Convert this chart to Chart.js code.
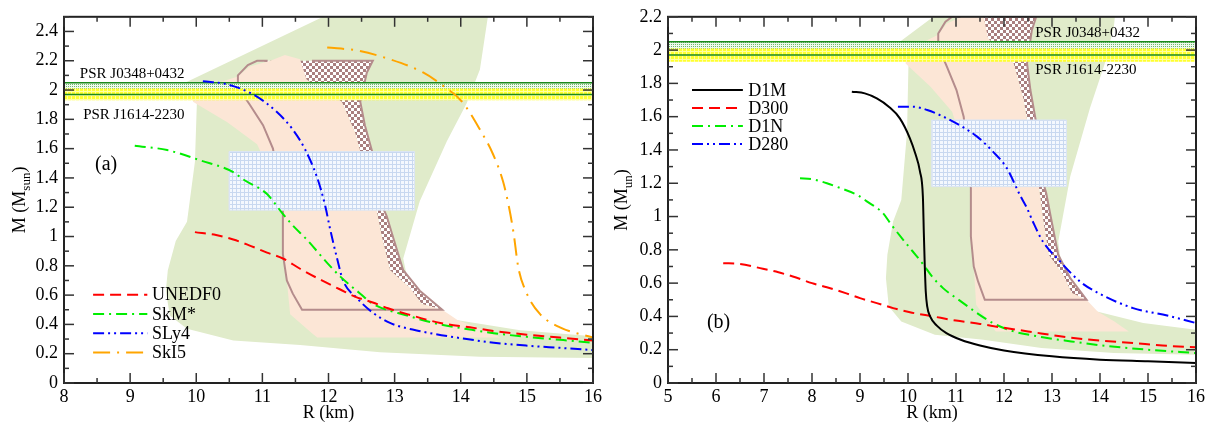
<!DOCTYPE html>
<html><head><meta charset="utf-8">
<script src="https://cdn.jsdelivr.net/npm/chart.js@4.4.1/dist/chart.umd.min.js"></script>
<style>
html,body{margin:0;padding:0;background:#fff;}
#wrap{position:relative;width:1215px;height:423px;overflow:hidden;}
#ca{position:absolute;left:0;top:0;}
#cb{position:absolute;left:607px;top:0;}
canvas{display:block;}
</style></head><body>
<div id="wrap"><canvas id="ca" width="607" height="423"></canvas><canvas id="cb" width="608" height="423"></canvas></div>
<script>
// ---------- tick values and labels ----------
const xTicksA=[8,9,10,11,12,13,14,15,16];
const xTickLabelsA=['8','9','10','11','12','13','14','15','16'];
const yTicksA=[0,0.2,0.4,0.6,0.8,1,1.2,1.4,1.6,1.8,2,2.2,2.4];
const yTickLabelsA=['0','0.2','0.4','0.6','0.8','1','1.2','1.4','1.6','1.8','2','2.2','2.4'];
const xTicksB=[5,6,7,8,9,10,11,12,13,14,15,16];
const xTickLabelsB=['5','6','7','8','9','10','11','12','13','14','15','16'];
const yTicksB=[0,0.2,0.4,0.6,0.8,1,1.2,1.4,1.6,1.8,2,2.2];
const yTickLabelsB=['0','0.2','0.4','0.6','0.8','1','1.2','1.4','1.6','1.8','2','2.2'];

// ---------- series names ----------
const namesA=['UNEDF0','SkM*','SLy4','SkI5'];
const namesB=['D1M','D300','D1N','D280'];

// ---------- panel (a) curves: R (km), M (Msun) ----------
const unedf0R=[9.98,10.3,10.56,10.8,11.07,11.31,11.57,11.9,12.17,12.4,12.67,12.9,13.19,13.69,14.14,14.5,15.0,15.5,16.0];
const unedf0M=[1.03,1.01,0.98,0.94,0.89,0.85,0.78,0.70,0.64,0.59,0.55,0.51,0.47,0.41,0.38,0.355,0.33,0.31,0.29];
const skmR=[9.07,9.56,10.06,10.56,10.71,11.07,11.3,11.45,11.67,11.98,12.17,12.48,12.67,13.19,13.69,14.14,14.5,15,15.5,16];
const skmM=[1.62,1.59,1.52,1.44,1.39,1.29,1.16,1.08,0.98,0.82,0.73,0.61,0.54,0.46,0.40,0.365,0.34,0.315,0.295,0.275];
const sly4R=[10.10,10.46,10.86,11.22,11.46,11.64,11.83,11.95,12.02,12.13,12.22,12.43,12.67,12.93,13.43,14.09,14.5,15,15.5,16];
const sly4M=[2.06,2.04,1.97,1.85,1.73,1.60,1.40,1.21,1.06,0.85,0.70,0.58,0.48,0.41,0.35,0.30,0.275,0.255,0.24,0.225];
const ski5R=[11.98,12.43,12.93,13.43,13.73,14.02,14.29,14.49,14.64,14.73,14.80,14.87,15.0,15.2,15.5,16];
const ski5M=[2.29,2.27,2.21,2.12,2.03,1.92,1.73,1.56,1.375,1.2,1.02,0.79,0.61,0.47,0.38,0.31];

// ---------- panel (b) curves ----------
const d1mR=[8.83,9.1,9.35,9.6,9.83,10.04,10.15,10.25,10.31,10.33,10.35,10.37,10.40,10.46,10.6,10.8,11.1,11.5,12,13,14,15,16];
const d1mM=[1.75,1.74,1.71,1.66,1.59,1.47,1.38,1.27,1.12,0.9,0.7,0.55,0.46,0.40,0.345,0.30,0.26,0.225,0.195,0.16,0.14,0.13,0.12];
const d300R=[6.15,6.5,6.92,7.3,7.6,8.0,8.31,8.7,9.0,9.35,9.69,10.04,10.52,11.0,11.5,11.92,12.5,13.31,14,14.69,15.3,16];
const d300M=[0.72,0.715,0.69,0.665,0.64,0.60,0.575,0.54,0.51,0.48,0.45,0.425,0.40,0.375,0.355,0.335,0.31,0.275,0.255,0.24,0.225,0.215];
const d1nR=[7.75,8.0,8.31,8.6,8.94,9.15,9.48,9.63,9.9,10.1,10.31,10.5,10.73,11.08,11.44,11.77,12.13,12.81,13.4,14,15,16];
const d1nM=[1.23,1.225,1.20,1.17,1.13,1.09,1.02,0.96,0.86,0.79,0.715,0.64,0.57,0.495,0.42,0.36,0.316,0.275,0.25,0.227,0.2,0.18];
const d280R=[9.79,10.1,10.40,10.94,11.44,11.77,12.06,12.33,12.48,12.6,12.81,13.17,13.58,14,14.69,15.4,16];
const d280M=[1.66,1.66,1.64,1.57,1.48,1.39,1.29,1.13,1.05,0.97,0.85,0.73,0.61,0.535,0.45,0.405,0.36];

// ---------- constraint regions (shared by both panels) ----------
const greenR=[11.92,14.41,14.29,14.09,13.79,13.38,13.13,13.23,13.79,14.90,16.0,16.0,14.29,12.78,11.57,10.56,9.86,9.60,9.54,9.57,9.69,9.86,9.98,10.01,9.83,11.92];
const greenM=[2.50,2.50,2.14,1.91,1.65,1.24,0.85,0.63,0.44,0.36,0.32,0.17,0.18,0.21,0.26,0.29,0.37,0.46,0.63,0.77,0.97,1.10,1.51,1.92,2.05,2.50];
const peachR=[10.62,10.81,11.12,11.34,11.57,11.67,12.20,12.40,12.48,12.63,12.73,12.81,12.93,13.23,13.41,13.72,13.95,14.3,14.6,11.83,11.75,11.42,11.37,11.31,11.31,11.15,10.92,10.47,9.95,9.98,10.62];
const peachM=[2.09,2.16,2.20,2.24,2.21,2.07,1.92,1.71,1.58,1.38,1.17,0.99,0.77,0.65,0.54,0.50,0.43,0.37,0.31,0.31,0.34,0.47,0.70,0.88,1.17,1.41,1.63,1.78,1.92,2.00,2.09];
const checkR=[10.92,12.67,12.58,12.48,12.55,12.66,12.78,12.88,12.98,13.13,13.38,13.72,13.41,13.23,12.93,12.81,12.73,12.63,12.48,12.40,12.20,11.67,11.27,11.0,10.92];
const checkM=[2.20,2.20,2.12,1.92,1.76,1.58,1.24,1.14,0.99,0.77,0.63,0.50,0.54,0.65,0.77,0.99,1.17,1.38,1.58,1.71,1.92,2.07,2.16,2.20,2.20];
const outlineR=[11.75,12.67,12.58,12.48,12.55,12.66,12.78,12.88,12.98,13.13,13.38,13.72,11.60,11.46,11.37,11.31,11.31,11.24,11.16,11.01,10.81,10.63,10.63,10.78,10.92,11.08];
const outlineM=[2.20,2.20,2.12,1.92,1.76,1.58,1.24,1.14,0.99,0.77,0.63,0.50,0.50,0.61,0.70,0.88,1.17,1.38,1.60,1.76,1.90,2.02,2.10,2.17,2.20,2.20];
const rectR=[10.5,13.3,13.3,10.5,10.5];
const rectM=[1.18,1.18,1.58,1.58,1.18];
// pulsar mass bands (Msun)
const psrJ0348=[1.97,2.05];
const psrJ1614=[1.93,2.01];
const bandR=[0,20];

// ---------- helpers ----------
const FONT="'Liberation Serif','Times New Roman',Times,serif";
function P(R,M){return R.map((r,i)=>({x:r,y:M[i]}));}
function box(lo,hi){return [{x:bandR[0],y:lo},{x:bandR[1],y:lo},{x:bandR[1],y:hi},{x:bandR[0],y:hi},{x:bandR[0],y:lo}];}
function hline(v){return [{x:bandR[0],y:v},{x:bandR[1],y:v}];}
function patt(ctx,w,h,draw){const c=document.createElement('canvas');c.width=w;c.height=h;const g=c.getContext('2d');draw(g);return ctx.createPattern(c,'repeat');}

function makePatterns(ctx){
  return {
    checker:patt(ctx,6,6,g=>{g.fillStyle='#ffffff';g.fillRect(0,0,6,6);g.fillStyle='#a97f7f';g.fillRect(0,0,3,3);g.fillRect(3,3,3,3);}),
    grid:patt(ctx,4,4,g=>{g.fillStyle='#f4f8fe';g.fillRect(0,0,4,4);g.fillStyle='#c8d8f0';g.fillRect(0,0,4,1);g.fillRect(0,0,1,4);}),
    dots:patt(ctx,2,2,g=>{g.fillStyle='#f0f8ee';g.fillRect(0,0,2,2);g.fillStyle='#6cbc6c';g.fillRect(0,0,1,1);}),
    yellow:patt(ctx,4,4,g=>{g.fillStyle='#ffff2e';g.fillRect(0,0,4,4);g.fillStyle='#ffffa0';g.fillRect(0,3,4,1);g.fillRect(3,0,1,4);})
  };
}

function regionSets(pt){
  const base={showLine:true,pointRadius:0,pointHoverRadius:0,tension:0};
  return [
    Object.assign({},base,{label:'green region',data:P(greenR,greenM),fill:'shape',backgroundColor:'#e0ebca',borderWidth:0,borderColor:'rgba(0,0,0,0)',order:20}),
    Object.assign({},base,{label:'checker band',data:P(checkR,checkM),fill:'shape',backgroundColor:pt.checker,borderWidth:0,borderColor:'rgba(0,0,0,0)',order:19}),
    Object.assign({},base,{label:'peach region',data:P(peachR,peachM),fill:'shape',backgroundColor:'#fce6d6',borderWidth:0,borderColor:'rgba(0,0,0,0)',order:18}),
    Object.assign({},base,{label:'outline',data:P(outlineR,outlineM),fill:false,borderColor:'#b48c8c',borderWidth:2,order:17}),
    Object.assign({},base,{label:'rect',data:P(rectR,rectM),fill:'shape',backgroundColor:pt.grid,borderColor:'#dbe5f4',borderWidth:1,order:16}),
    Object.assign({},base,{label:'J0348 band',data:box(psrJ0348[0],psrJ0348[1]),fill:'shape',backgroundColor:pt.dots,borderWidth:0,borderColor:'rgba(0,0,0,0)',order:15}),
    Object.assign({},base,{label:'J1614 band',data:box(psrJ1614[0],psrJ1614[1]),fill:'shape',backgroundColor:pt.yellow,borderWidth:0,borderColor:'rgba(0,0,0,0)',order:14}),
    Object.assign({},base,{label:'J0348 lo',data:hline(psrJ0348[0]),fill:false,borderColor:'#1b8a1b',borderWidth:1.5,order:13}),
    Object.assign({},base,{label:'J0348 hi',data:hline(psrJ0348[1]),fill:false,borderColor:'#1b8a1b',borderWidth:1.5,order:12})
  ];
}
function curve(name,R,M,color,dash){
  return {label:name,data:P(R,M),showLine:true,pointRadius:0,pointHoverRadius:0,fill:false,borderColor:color,borderWidth:2,borderDash:dash,cubicInterpolationMode:'monotone',order:1};
}
const DASH={dash:[11,6],dashdot:[11,5,2,5],dashdotdot:[11,4,2,4,2,4],longdashdot:[17,7,2,7],solid:[]};

function scales(xmin,xmax,ymax,xt,xl,yt,yl,yw){
  return {
    x:{type:'linear',min:xmin,max:xmax,
      afterBuildTicks:s=>{s.ticks=xt.map(v=>({value:v}));},
      ticks:{callback:(v,i)=>xl[i],font:{family:FONT,size:18},color:'#000',padding:3,maxRotation:0,autoSkip:false},
      grid:{display:false,drawTicks:false},border:{display:false},
      afterFit:s=>{s.height=40;}},
    y:{type:'linear',min:0,max:ymax,
      afterBuildTicks:s=>{s.ticks=yt.map(v=>({value:v}));},
      ticks:{callback:(v,i)=>yl[i],font:{family:FONT,size:18},color:'#000',padding:6,autoSkip:false},
      grid:{display:false,drawTicks:false},border:{display:false},
      afterFit:s=>{s.width=yw;}}
  };
}

const deco={
  id:'deco',
  afterDraw(chart){
    const o=chart.options.plugins.deco; if(!o) return;
    const {ctx,chartArea:a}=chart; const xs=chart.scales.x, ys=chart.scales.y;
    ctx.save();
    // texts (PSR labels and panel tag)
    ctx.fillStyle='#000'; ctx.textBaseline='middle'; ctx.textAlign='left';
    ctx.font='15px '+FONT;
    o.psr.forEach(t=>ctx.fillText(t.text,xs.getPixelForValue(t.x),ys.getPixelForValue(t.y)));
    ctx.font='20px '+FONT;
    ctx.fillText(o.tag.text,xs.getPixelForValue(o.tag.x),ys.getPixelForValue(o.tag.y));
    // legend
    ctx.font='18px '+FONT;
    o.legend.items.forEach((it,i)=>{
      const py=ys.getPixelForValue(o.legend.y0)+i*o.legend.dy;
      const x0=xs.getPixelForValue(o.legend.x0), x1=xs.getPixelForValue(o.legend.x1);
      ctx.save(); ctx.strokeStyle=it.color; ctx.lineWidth=2; ctx.setLineDash(it.dash);
      ctx.beginPath(); ctx.moveTo(x0,py); ctx.lineTo(x1,py); ctx.stroke(); ctx.restore();
      ctx.fillText(it.name,xs.getPixelForValue(o.legend.xt),py+1);
    });
    // frame
    ctx.strokeStyle='#222'; ctx.lineWidth=2;
    ctx.strokeRect(a.left,a.top,a.right-a.left,a.bottom-a.top);
    // inward ticks on all sides
    ctx.lineWidth=1.5; ctx.strokeStyle='#333';
    const seg=(x1,y1,x2,y2)=>{ctx.beginPath();ctx.moveTo(x1,y1);ctx.lineTo(x2,y2);ctx.stroke();};
    const nx=Math.round((xs.max-xs.min)/0.5);
    for(let i=0;i<=nx;i++){const px=xs.getPixelForValue(xs.min+i*0.5);const L=i%2===0?10:5;seg(px,a.bottom,px,a.bottom-L);seg(px,a.top,px,a.top+L);}
    const ny=Math.round(ys.max/0.1);
    for(let i=0;i<=ny;i++){const py=ys.getPixelForValue(i*0.1);const L=i%2===0?10:5;seg(a.left,py,a.left+L,py);seg(a.right,py,a.right-L,py);}
    // axis titles
    ctx.fillStyle='#000'; ctx.font='18px '+FONT; ctx.textAlign='center'; ctx.textBaseline='middle';
    ctx.fillText('R (km)',(a.left+a.right)/2,413);
    // y title with subscript, rotated
    const parts=[['M (M',18,0],[o.ysub,13,5],[')',18,0]];
    let total=0; parts.forEach(p=>{ctx.font=p[1]+'px '+FONT;p.push(ctx.measureText(p[0]).width);total+=p[3];});
    ctx.translate(o.ytitleX,(a.top+a.bottom)/2); ctx.rotate(-Math.PI/2);
    ctx.textAlign='left'; ctx.textBaseline='alphabetic';
    let cx=-total/2; parts.forEach(p=>{ctx.font=p[1]+'px '+FONT;ctx.fillText(p[0],cx,p[2]);cx+=p[3];});
    ctx.restore();
  }
};

function build(id,cfg){
  const cv=document.getElementById(id); const ctx=cv.getContext('2d');
  const pt=makePatterns(ctx);
  return new Chart(ctx,{
    type:'scatter',
    data:{datasets:regionSets(pt).concat(cfg.curves)},
    options:{responsive:false,animation:false,devicePixelRatio:1,events:[],
      layout:{padding:cfg.pad},
      scales:cfg.scales,
      plugins:{legend:{display:false},tooltip:{enabled:false},deco:cfg.deco}},
    plugins:[deco]
  });
}

const colA=['#ff0000','#00ee00','#0000ff','#ffa500'];
const dashA=[DASH.dash,DASH.dashdot,DASH.dashdotdot,DASH.longdashdot];
build('ca',{
  pad:{top:14,right:14,left:0,bottom:0},
  scales:scales(8,16,2.5,xTicksA,xTickLabelsA,yTicksA,yTickLabelsA,64),
  curves:[curve(namesA[0],unedf0R,unedf0M,colA[0],dashA[0]),curve(namesA[1],skmR,skmM,colA[1],dashA[1]),curve(namesA[2],sly4R,sly4M,colA[2],dashA[2]),curve(namesA[3],ski5R,ski5M,colA[3],dashA[3])],
  deco:{psr:[{text:'PSR J0348+0432',x:8.24,y:2.11},{text:'PSR J1614-2230',x:8.29,y:1.83}],
    tag:{text:'(a)',x:8.47,y:1.49},
    legend:{x0:8.44,x1:9.26,xt:9.33,y0:0.603,dy:19.3,items:namesA.map((n,i)=>({name:n,color:colA[i],dash:dashA[i]}))},
    ysub:'sun',ytitleX:25}
});
const colB=['#000000','#ff0000','#00ee00','#0000ff'];
const dashB=[DASH.solid,DASH.dash,DASH.dashdot,DASH.dashdotdot];
build('cb',{
  pad:{top:14,right:19,left:0,bottom:0},
  scales:scales(5,16,2.2,xTicksB,xTickLabelsB,yTicksB,yTickLabelsB,61),
  curves:[curve(namesB[0],d1mR,d1mM,colB[0],dashB[0]),curve(namesB[1],d300R,d300M,colB[1],dashB[1]),curve(namesB[2],d1nR,d1nM,colB[2],dashB[2]),curve(namesB[3],d280R,d280M,colB[3],dashB[3])],
  deco:{psr:[{text:'PSR J0348+0432',x:12.65,y:2.105},{text:'PSR J1614-2230',x:12.65,y:1.88}],
    tag:{text:'(b)',x:5.81,y:0.364},
    legend:{x0:5.5,x1:6.56,xt:6.67,y0:1.76,dy:18,items:namesB.map((n,i)=>({name:n,color:colB[i],dash:dashB[i]}))},
    ysub:'un',ytitleX:20}
});
</script>
</body></html>
